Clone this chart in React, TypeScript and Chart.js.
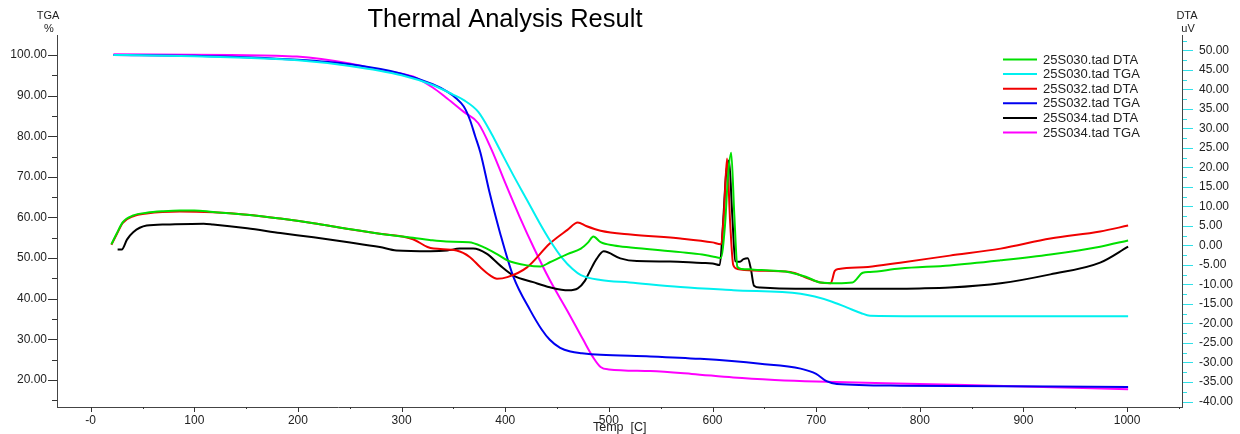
import React, { useEffect, useRef } from "react";
import { Chart, registerables } from "chart.js";

Chart.register(...registerables);

// ---------- data ----------
const xTickValues = [0, 100, 200, 300, 400, 500, 600, 700, 800, 900, 1000];
const tgaTickValues = [20, 30, 40, 50, 60, 70, 80, 90, 100];
const dtaTickValues = [-40, -35, -30, -25, -20, -15, -10, -5, 0, 5, 10, 15, 20, 25, 30, 35, 40, 45, 50];

const seriesLabels = [
  "25S030.tad DTA",
  "25S030.tad TGA",
  "25S032.tad DTA",
  "25S032.tad TGA",
  "25S034.tad DTA",
  "25S034.tad TGA",
];
const seriesColors = ["#00e000", "#00f0f0", "#f00000", "#0000f0", "#000000", "#ff00ff"];

// 25S030 DTA (uV)
const s030DtaT = [20, 25, 31, 41, 54, 70, 86, 100, 118, 151, 183, 215, 247, 279, 311, 327, 343, 365, 379, 392, 402, 421, 434, 443, 460, 473, 480, 485, 492, 505, 521, 569, 590, 600, 608, 612, 615, 618, 621, 624, 628, 640, 660, 675, 690, 704, 720, 735, 745, 752, 781, 829, 878, 926, 974, 1001];
const s030DtaV = [0.3, 3.0, 6.0, 7.7, 8.4, 8.8, 9.0, 9.0, 8.6, 7.9, 6.9, 5.7, 4.3, 3.0, 2.0, 1.4, 1.0, 0.85, -0.4, -2.2, -3.8, -5.1, -5.4, -4.3, -2.2, -0.8, 0.8, 2.3, 0.85, 0.0, -0.5, -1.7, -2.3, -2.8, -3.2, 5, 18, 23.8, 8, -5.5, -6.0, -6.2, -6.5, -6.9, -8.0, -9.5, -9.7, -9.5, -7.0, -6.8, -5.9, -5.1, -3.8, -2.3, -0.3, 1.3];

// 25S030 TGA (%)
const s030TgaT = [22, 60, 100, 150, 200, 250, 300, 330, 350, 360, 374, 387, 395, 408, 421, 433, 443, 455, 465, 473, 492, 520, 569, 620, 685, 714, 730, 743, 752, 800, 900, 1001];
const s030TgaV = [100, 99.9, 99.7, 99.3, 98.7, 97.3, 95.0, 92.6, 90.2, 88.9, 86.0, 80.5, 76.6, 70.3, 64.3, 58.7, 54.4, 50.0, 47.3, 45.8, 44.6, 44.0, 42.9, 42.1, 41.2, 39.4, 37.8, 36.5, 35.8, 35.7, 35.7, 35.7];

// 25S032 DTA (uV)
const s032DtaT = [20, 25, 31, 41, 54, 86, 118, 151, 183, 215, 247, 279, 311, 325, 331, 353, 366, 376, 385, 392, 402, 421, 443, 460, 470, 478, 492, 521, 569, 600, 608, 611, 614, 617, 620, 624, 640, 675, 690, 704, 714, 718, 722, 750, 781, 829, 878, 926, 974, 1001];
const s032DtaV = [0.2, 2.8, 5.8, 7.5, 8.2, 8.7, 8.5, 7.9, 6.9, 5.7, 4.3, 3.0, 1.6, -0.4, -0.8, -1.3, -3.0, -5.6, -7.6, -8.5, -8.1, -5.6, 0.5, 4.0, 5.9, 5.0, 3.8, 2.8, 1.8, 0.8, 0.3, 8, 22.3, 6, -5.0, -6.0, -6.4, -6.8, -8.2, -9.5, -9.7, -6.5, -6.0, -5.5, -4.4, -2.6, -0.8, 1.8, 3.6, 5.1];

// 25S032 TGA (%)
const s032TgaT = [22, 100, 200, 250, 300, 330, 344, 352, 360, 366, 371, 376, 385, 395, 408, 424, 435, 443, 453, 463, 474, 492, 540, 588, 646, 685, 700, 710, 720, 781, 1001];
const s032TgaV = [100, 99.8, 98.8, 97.7, 95.4, 92.8, 91.0, 89.5, 87.3, 84.0, 80.0, 76.0, 66.0, 56.2, 45.3, 37.2, 32.5, 29.9, 27.9, 27.0, 26.6, 26.2, 25.8, 25.2, 24.0, 22.8, 21.5, 19.7, 19.0, 18.6, 18.3];

// 25S034 DTA (uV)
const s034DtaT = [26, 30, 35, 41, 54, 73, 109, 118, 151, 183, 215, 247, 279, 295, 328, 344, 356, 369, 382, 395, 408, 427, 443, 461, 470, 477, 482, 488, 495, 511, 527, 559, 590, 600, 607, 610, 613, 616, 619, 622, 626, 630, 634, 637, 640, 646, 680, 740, 800, 829, 878, 926, 974, 1001];
const s034DtaV = [-1.0, -1.0, 1.5, 3.4, 5.1, 5.4, 5.6, 5.4, 4.4, 3.2, 2.1, 0.9, -0.4, -1.3, -1.5, -1.3, -0.8, -0.8, -2.1, -5.1, -7.7, -9.4, -10.7, -11.5, -11.0, -9.0, -6.4, -3.5, -1.5, -3.3, -4.0, -4.1, -4.5, -4.6, -5.0, 5, 18, 21.8, 8, -4.0, -4.2, -3.5, -3.3, -6, -10.3, -10.8, -11.1, -11.1, -11.0, -10.8, -9.7, -7.4, -4.4, -0.3];

// 25S034 TGA (%)
const s034TgaT = [22, 135, 199, 250, 279, 311, 330, 344, 360, 374, 387, 400, 414, 428, 443, 460, 475, 485, 492, 500, 540, 580, 620, 660, 700, 800, 900, 1001];
const s034TgaV = [100.2, 100.0, 99.6, 97.9, 96.3, 94.7, 92.0, 89.3, 86.0, 83.2, 76.6, 68.5, 60.1, 52.3, 44.6, 37.0, 30.0, 25.5, 23.2, 22.6, 22.2, 21.5, 20.6, 20.0, 19.6, 19.0, 18.4, 17.7];

const FONT = "'Liberation Sans', Arial, sans-serif";

function pts(t: number[], v: number[]) {
  return t.map((x, i) => ({ x, y: v[i] }));
}

const decorPlugin = {
  id: "decor",
  afterDraw(chart: any) {
    const ctx = chart.ctx;
    const xs = chart.scales.x;
    const yl = chart.scales.yL;
    const yr = chart.scales.yR;
    const area = chart.chartArea;
    ctx.save();

    // x ticks
    ctx.strokeStyle = "#333";
    ctx.lineWidth = 1;
    for (let v = -50; v <= 1100; v += 50) {
      if (v < xs.min || v > xs.max) continue;
      const px = Math.round(xs.getPixelForValue(v)) + 0.5;
      const len = v % 100 === 0 ? 5 : 2;
      ctx.beginPath();
      ctx.moveTo(px, area.bottom);
      ctx.lineTo(px, area.bottom + len);
      ctx.stroke();
    }
    // left ticks
    for (let v = 15; v <= 105; v += 5) {
      if (v < yl.min || v > yl.max) continue;
      const py = Math.round(yl.getPixelForValue(v)) + 0.5;
      const len = v % 10 === 0 ? 9 : 5;
      ctx.beginPath();
      ctx.moveTo(area.left - len, py);
      ctx.lineTo(area.left, py);
      ctx.stroke();
    }
    // right ticks (cyan)
    ctx.strokeStyle = "#30e0e8";
    for (let v = -42.5; v <= 55; v += 2.5) {
      if (v < yr.min || v > yr.max) continue;
      const py = Math.round(yr.getPixelForValue(v)) + 0.5;
      const major = Math.abs(v % 5) < 1e-6;
      const len = major ? 10 : 4;
      ctx.beginPath();
      ctx.moveTo(area.right + 1, py);
      ctx.lineTo(area.right + 1 + len, py);
      ctx.stroke();
    }

    // title
    ctx.fillStyle = "#000";
    ctx.textAlign = "center";
    ctx.textBaseline = "middle";
    ctx.font = `25.5px ${FONT}`;
    ctx.fillText("Thermal Analysis Result", 505, 20);

    // axis titles
    ctx.fillStyle = "#222";
    ctx.font = `11px ${FONT}`;
    ctx.fillText("TGA", 48, 16);
    ctx.fillText("%", 49, 29);
    ctx.fillText("DTA", 1187, 16);
    ctx.fillText("uV", 1188, 29);
    ctx.textAlign = "left";
    ctx.font = `12.5px ${FONT}`;
    ctx.fillText("Temp  [C]", 593, 428);

    // legend
    ctx.font = `13px ${FONT}`;
    ctx.textBaseline = "middle";
    for (let i = 0; i < seriesLabels.length; i++) {
      const y = 59.5 + i * 14.6;
      ctx.strokeStyle = seriesColors[i];
      ctx.lineWidth = 2;
      ctx.beginPath();
      ctx.moveTo(1003, y);
      ctx.lineTo(1037, y);
      ctx.stroke();
      ctx.fillStyle = "#222";
      ctx.fillText(seriesLabels[i], 1043, y + 0.5);
    }
    ctx.restore();
  },
};

export default function App() {
  const ref = useRef<HTMLCanvasElement>(null);
  useEffect(() => {
    document.body.style.margin = "0";
    const series = [
      pts(s030DtaT, s030DtaV),
      pts(s030TgaT, s030TgaV),
      pts(s032DtaT, s032DtaV),
      pts(s032TgaT, s032TgaV),
      pts(s034DtaT, s034DtaV),
      pts(s034TgaT, s034TgaV),
    ];
    const datasets = series.map((d, i) => ({
      label: seriesLabels[i],
      data: d,
      yAxisID: i % 2 === 0 ? "yR" : "yL",
      borderColor: seriesColors[i],
      backgroundColor: seriesColors[i],
      borderWidth: 2,
      pointRadius: 0,
      cubicInterpolationMode: "monotone" as const,
      fill: false,
    }));
    const tickFont = { family: FONT, size: 12 };
    const chart = new Chart(ref.current!, {
      type: "line",
      data: { datasets },
      options: {
        animation: false,
        responsive: false,
        devicePixelRatio: 1,
        layout: { padding: { top: 35, left: 0, right: 0, bottom: 0 } },
        plugins: {
          legend: { display: false },
          title: { display: false },
          tooltip: { enabled: false },
        },
        scales: {
          x: {
            type: "linear",
            min: -32.5,
            max: 1053,
            grid: { display: false, drawTicks: false },
            border: { display: true, color: "#444", width: 1 },
            ticks: {
              padding: 6,
              color: "#222",
              font: tickFont,
              maxRotation: 0,
              autoSkip: false,
              callback: (v: any) => (Number(v) === 0 ? "-0" : String(v)),
            },
            afterBuildTicks: (s: any) => {
              s.ticks = xTickValues.map((v) => ({ value: v }));
            },
            afterFit: (s: any) => {
              s.height = 27;
            },
          },
          yL: {
            type: "linear",
            position: "left",
            min: 13.35,
            max: 104.92,
            grid: { display: false, drawTicks: false },
            border: { display: true, color: "#444", width: 1 },
            ticks: {
              padding: 10,
              color: "#222",
              font: tickFont,
              autoSkip: false,
              callback: (v: any) => Number(v).toFixed(2),
            },
            afterBuildTicks: (s: any) => {
              s.ticks = tgaTickValues.map((v) => ({ value: v }));
            },
            afterFit: (s: any) => {
              s.width = 57;
            },
          },
          yR: {
            type: "linear",
            position: "right",
            min: -41.41,
            max: 53.97,
            grid: { display: false, drawTicks: false },
            border: { display: true, color: "#444", width: 1 },
            ticks: {
              padding: 17,
              color: "#222",
              font: tickFont,
              autoSkip: false,
              callback: (v: any) => Number(v).toFixed(2),
            },
            afterBuildTicks: (s: any) => {
              s.ticks = dtaTickValues.map((v) => ({ value: v }));
            },
            afterFit: (s: any) => {
              s.width = 58;
            },
          },
        },
      },
      plugins: [decorPlugin],
    });
    return () => chart.destroy();
  }, []);
  return (
    <div style={{ width: 1240, height: 434, background: "#fff" }}>
      <canvas ref={ref} width={1240} height={434} style={{ display: "block" }} />
    </div>
  );
}
